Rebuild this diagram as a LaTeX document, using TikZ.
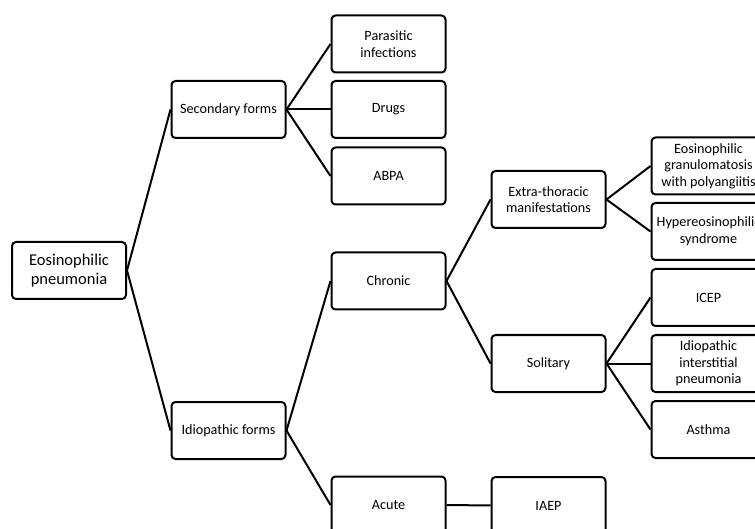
\documentclass[tikz,border=0pt]{standalone}
\usepackage{fontspec}
\setmainfont{Carlito}
\begin{document}
\begin{tikzpicture}[x=1pt,y=-1pt,
  box/.style={draw=black, line width=2pt, rounded corners=4pt, minimum width=114pt, minimum height=57pt, align=center, inner sep=1pt, font=\fontsize{14.2}{16.7}\selectfont, text=black},
  rootbox/.style={box, font=\fontsize{16.5}{18.3}\selectfont},
  link/.style={line width=2pt}]
\clip (0,0) rectangle (755,529);
\fill[white] (0,0) rectangle (755,529);
\node[rootbox] (root) at (69,270.5) {Eosinophilic\\pneumonia};
\node[box] (sec) at (228.5,109.5) {Secondary forms};
\node[box] (idio) at (228.5,430.5) {Idiopathic forms};
\node[box] (para) at (388.5,44) {Parasitic\\infections};
\node[box] (drugs) at (388.5,109.5) {Drugs};
\node[box] (abpa) at (388.5,176) {ABPA};
\node[box] (chronic) at (388.5,281) {Chronic};
\node[box] (acute) at (388.5,505) {Acute};
\node[box] (extra) at (548.5,199.5) {Extra-thoracic\\manifestations};
\node[box] (solitary) at (548.5,363.5) {Solitary};
\node[box] (iaep) at (548.5,505.5) {IAEP};
\node[box] (egpa) at (708.5,166) {Eosinophilic\\granulomatosis\\with polyangiitis};
\node[box] (hyper) at (708.5,231.5) {Hypereosinophilic\\syndrome};
\node[box] (icep) at (708.5,297.5) {ICEP};
\node[box] (iip) at (708.5,363.5) {Idiopathic\\interstitial\\pneumonia};
\node[box] (asthma) at (708.5,429.5) {Asthma};
\draw[link] (root.east) -- (sec.west);
\draw[link] (root.east) -- (idio.west);
\draw[link] (sec.east) -- (para.west);
\draw[link] (sec.east) -- (drugs.west);
\draw[link] (sec.east) -- (abpa.west);
\draw[link] (idio.east) -- (chronic.west);
\draw[link] (idio.east) -- (acute.west);
\draw[link] (chronic.east) -- (extra.west);
\draw[link] (chronic.east) -- (solitary.west);
\draw[link] (acute.east) -- (iaep.west);
\draw[link] (extra.east) -- (egpa.west);
\draw[link] (extra.east) -- (hyper.west);
\draw[link] (solitary.east) -- (icep.west);
\draw[link] (solitary.east) -- (iip.west);
\draw[link] (solitary.east) -- (asthma.west);
\end{tikzpicture}
\end{document}
